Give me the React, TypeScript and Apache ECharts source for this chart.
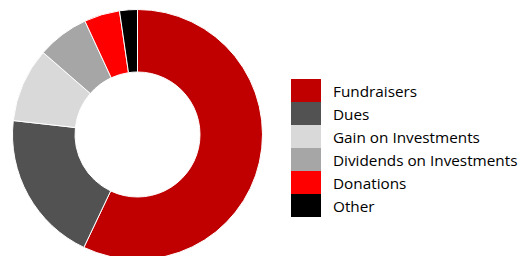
import React, { useEffect, useRef } from "react";
import * as echarts from "echarts";

const categories = ["Fundraisers", "Dues", "Gain on Investments", "Dividends on Investments", "Donations", "Other"];
const values = [57.0, 19.7, 9.6, 6.7, 4.6, 2.3];
const colors = ["#C00000", "#525252", "#D9D9D9", "#A6A6A6", "#FF0000", "#000000"];

export default function App() {
  const ref = useRef<HTMLDivElement>(null);
  useEffect(() => {
    if (!ref.current) return;
    const chart = echarts.init(ref.current, undefined, { renderer: "svg" });
    chart.setOption({
      animation: false,
      backgroundColor: "#ffffff",
      legend: {
        orient: "vertical",
        left: 291,
        top: 79,
        padding: 0,
        itemWidth: 30,
        itemHeight: 23,
        itemGap: 0,
        icon: "rect",
        selectedMode: false,
        data: categories,
        itemStyle: { borderWidth: 0 },
        textStyle: {
          fontFamily: "Open Sans",
          fontSize: 15.3,
          lineHeight: 23,
          color: "#000000",
          padding: [0, 0, 0, 7],
        },
      },
      series: [
        {
          type: "pie",
          center: [137.5, 134.5],
          radius: [62.5, 125],
          startAngle: 90,
          clockwise: true,
          label: { show: false },
          labelLine: { show: false },
          emphasis: { disabled: true },
          itemStyle: { borderColor: "#ffffff", borderWidth: 1 },
          data: categories.map((name, i) => ({
            name,
            value: values[i],
            itemStyle: { color: colors[i] },
          })),
        },
      ],
    });
    return () => chart.dispose();
  }, []);
  return (
    <div
      ref={ref}
      style={{ position: "fixed", left: 0, top: 0, width: 521, height: 256 }}
    />
  );
}
